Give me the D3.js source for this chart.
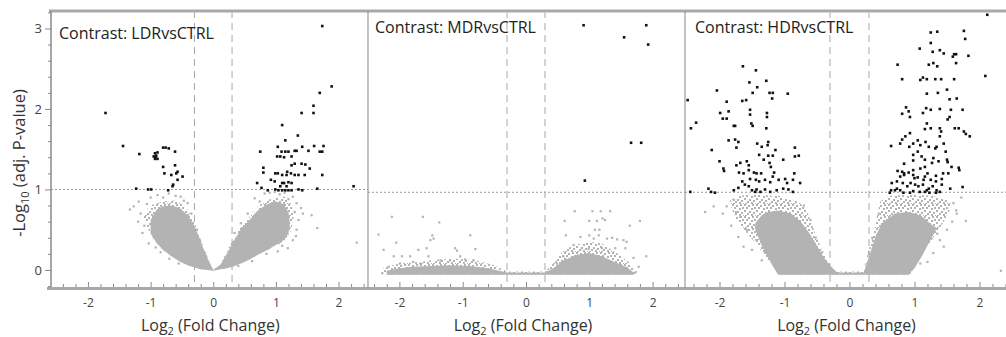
<!DOCTYPE html>
<html>
<head>
<meta charset="utf-8">
<script src="https://cdn.jsdelivr.net/npm/d3@7"></script>
<style>
  html, body { margin: 0; padding: 0; background: #fff; }
  svg { display: block; font-family: "Open Sans", "Noto Sans", sans-serif; }
</style>
</head>
<body>
<svg id="chart" width="1006" height="337"></svg>
<script>
// ---------------- data ----------------
const contrasts = ["LDRvsCTRL", "MDRvsCTRL", "HDRvsCTRL"];
const yMajorTicks = [0, 1, 2, 3];
const xMajorTicks = [-2, -1, 0, 1, 2];
const foldCut = 0.3;                       // |log2 FC| cut-off
const pCut = [1.0, 0.965, 0.965];          // -log10 adj. p cut-off per contrast

// significant genes: [log2 FC, -log10 adj. p]
const ldrSig = [
  [-1.72,1.95],[-1.44,1.54],[-1.18,1.44],[-1.23,1.01],
  [-0.93,1.45],[-0.89,1.46],[-0.91,1.42],[-0.95,1.41],[-0.93,1.38],[-0.89,1.38],[-0.92,1.40],
  [-0.80,1.52],[-0.76,1.52],[-0.71,1.51],[-0.61,1.47],[-0.80,1.28],[-0.78,1.20],[-0.61,1.30],
  [-0.57,1.22],[-0.59,1.20],[-0.67,1.18],[-0.49,1.16],[-0.57,1.12],[-0.64,1.06],[-0.65,1.04],
  [-1.04,1.00],[-0.99,1.00],[-0.72,0.99],
  [1.74,3.03],[1.89,2.28],[1.70,2.20],[1.60,2.04],[1.60,1.95],[1.41,1.95],[1.10,1.80],[1.35,1.67],[1.15,1.61],
  [0.75,1.47],[1.03,1.53],[1.09,1.47],[1.15,1.47],[1.20,1.47],[1.30,1.48],[1.33,1.48],[1.42,1.53],
  [1.61,1.54],[1.76,1.54],[1.70,1.47],[1.74,1.47],[1.52,1.48],
  [1.02,1.41],[1.07,1.41],[1.13,1.40],[1.25,1.41],[0.80,1.27],[0.80,1.21],[1.30,1.32],[1.25,1.30],
  [1.41,1.32],[1.47,1.31],[1.54,1.26],[1.18,1.22],[1.24,1.20],[1.30,1.18],[0.99,1.20],[1.03,1.20],
  [1.10,1.18],[1.17,1.18],[1.36,1.18],[1.46,1.18],[1.74,1.18],
  [0.70,1.08],[0.92,1.12],[0.98,1.10],[1.10,1.08],[1.13,1.08],[1.20,1.09],[1.25,1.08],
  [0.77,1.02],[0.87,0.99],[0.99,1.00],[1.04,0.99],[1.10,0.99],[1.15,0.99],[1.20,0.99],[1.25,0.99],
  [1.07,1.04],[1.17,1.04],[1.36,1.00],[1.42,0.99],[1.66,1.01],[2.24,1.04]
];
const mdrSig = [
  [0.91,3.04],[1.90,3.04],[1.55,2.89],[1.93,2.80],[1.66,1.58],[1.82,1.58],[0.93,1.11]
];
const hdrSig = [
  [-2.49,2.11],[-2.36,1.83],[-2.44,1.76],[-2.04,2.23],[-1.64,2.53],[-1.44,2.48],[-1.54,2.33],[-1.28,2.35],
  [-1.42,2.27],[-1.49,2.20],[-1.23,2.20],[-1.18,2.20],[-1.19,2.13],[-0.95,2.19],[-1.65,2.10],[-1.59,2.11],
  [-1.89,2.09],[-1.99,1.95],[-1.86,1.97],[-1.95,1.88],[-1.89,1.88],[-1.78,1.79],[-1.76,1.79],[-1.53,1.99],
  [-1.53,1.93],[-1.51,1.82],[-1.49,1.79],[-1.27,1.95],[-1.27,1.90],[-1.28,1.76],[-1.86,1.61],[-1.76,1.62],
  [-1.71,1.59],[-2.12,1.49],[-1.74,1.52],[-1.42,1.57],[-1.35,1.53],[-1.25,1.59],[-1.26,1.55],[-1.14,1.49],
  [-1.18,1.42],[-1.25,1.42],[-1.39,1.43],[-1.32,1.37],[-1.23,1.33],[-0.84,1.52],[-0.84,1.41],[-0.78,1.42],
  [-1.02,1.37],[-2.00,1.35],[-1.94,1.26],[-1.93,1.23],[-1.68,1.33],[-1.58,1.35],[-1.55,1.30],[-1.74,1.30],
  [-1.70,1.21],[-1.63,1.20],[-1.55,1.24],[-1.47,1.21],[-1.43,1.20],[-1.36,1.20],[-1.21,1.28],[-1.16,1.21],
  [-1.18,1.16],[-1.53,1.13],[-1.44,1.12],[-1.39,1.10],[-1.30,1.12],[-1.22,1.09],[-1.09,1.12],[-0.99,1.13],
  [-0.96,1.08],[-0.85,1.20],[-0.87,1.12],[-0.76,1.08],[-1.65,1.10],[-1.71,1.02],[-1.61,1.06],[-1.55,1.04],
  [-1.43,1.00],[-1.37,0.97],[-1.30,1.00],[-1.22,0.97],[-1.12,0.99],[-1.02,1.01],[-0.94,1.00],[-0.87,0.97],
  [-2.17,1.01],[-2.13,0.97],[-2.07,0.96],[-2.45,0.97],[-1.78,0.99],[-1.50,0.99],[-1.45,0.97],
  [2.12,3.17],[1.25,2.95],[1.35,2.96],[1.76,2.97],[1.78,2.87],[1.25,2.82],[1.08,2.75],[1.28,2.71],
  [1.39,2.73],[1.45,2.69],[1.61,2.68],[1.64,2.68],[1.59,2.65],[1.83,2.66],[0.74,2.55],[1.22,2.55],
  [1.29,2.57],[1.35,2.53],[1.64,2.57],[2.09,2.41],[0.81,2.37],[1.09,2.36],[1.13,2.39],[1.19,2.37],
  [1.32,2.37],[1.41,2.37],[1.61,2.37],[1.19,2.19],[1.36,2.20],[1.50,2.24],[1.54,2.12],[1.65,2.13],
  [0.87,2.02],[0.91,1.97],[0.81,1.94],[0.93,1.90],[1.18,2.01],[1.13,1.95],[1.25,1.99],[1.39,2.00],
  [1.56,1.99],[1.74,1.99],[1.54,1.90],[1.51,1.87],[1.19,1.82],[1.16,1.75],[1.25,1.76],[1.39,1.76],
  [1.41,1.72],[1.62,1.76],[1.68,1.76],[1.76,1.72],[1.79,1.69],[1.85,1.66],[1.39,1.66],[0.93,1.70],
  [0.86,1.66],[0.81,1.62],[0.78,1.57],[0.64,1.54],[0.92,1.53],[0.98,1.57],[1.05,1.61],[1.09,1.55],
  [1.17,1.59],[1.22,1.53],[1.34,1.53],[1.32,1.51],[1.45,1.57],[1.48,1.47],[1.05,1.47],[0.98,1.43],
  [1.11,1.41],[1.16,1.37],[1.29,1.39],[1.27,1.33],[1.37,1.35],[1.50,1.37],[1.51,1.34],[0.98,1.36],
  [0.84,1.32],[0.74,1.23],[0.81,1.22],[0.84,1.20],[0.91,1.21],[0.98,1.24],[1.09,1.26],[1.16,1.28],
  [1.20,1.20],[1.33,1.17],[1.44,1.20],[1.52,1.20],[1.57,1.28],[1.68,1.27],[1.69,1.24],[0.78,1.16],
  [0.84,1.18],[0.98,1.18],[1.00,1.14],[1.05,1.15],[1.14,1.12],[1.16,1.16],[1.25,1.12],[1.33,1.10],
  [1.42,1.13],[0.65,1.08],[0.73,1.10],[0.82,1.08],[0.89,1.04],[0.94,1.08],[1.01,1.06],[1.06,1.04],
  [1.13,1.06],[1.22,1.01],[1.28,1.04],[1.34,0.99],[1.42,1.06],[1.55,1.01],[1.74,1.03],[0.62,0.96],
  [0.73,1.01],[0.78,0.99],[0.83,0.96],[0.93,0.96],[0.98,0.98],[1.08,0.97],[1.16,0.97],[1.23,0.96],
  [1.19,0.99],[1.33,0.96],[1.39,0.97],[0.64,0.99],[0.70,0.99]
];

// scattered non-significant genes outside the dense clouds
const ldrGrey = [
  [-1.19,0.85],[-1.27,0.79],[-1.33,0.75],[-1.20,0.60],[-0.89,0.93],[-0.71,0.95],[-0.52,0.91],[-0.41,0.83],
  [-1.13,0.46],[-1.03,0.33],[-1.16,0.70],[-0.60,0.92],[-1.00,0.90],[-1.10,0.55],[-0.92,0.28],[-0.84,0.22],
  [-0.70,0.14],[-0.55,0.08],[-1.06,0.82],[-0.80,0.90],[-0.47,0.86],[-0.35,0.70],[-0.26,0.50],
  [0.66,0.89],[0.82,0.95],[0.98,0.97],[1.14,0.96],[1.27,0.91],[1.33,0.83],[1.40,0.77],[1.43,0.70],
  [1.57,0.68],[1.66,0.52],[2.29,0.34],[1.33,0.50],[1.27,0.37],[1.19,0.27],[1.03,0.23],[0.55,0.70],
  [0.44,0.58],[0.34,0.46],[1.36,0.62],[1.30,0.72],[0.90,0.96],[1.06,0.94],[0.85,0.20],[0.62,0.11],
  [0.40,0.05],[0.74,0.85],[1.20,0.88],[1.32,0.42],[1.10,0.30]
];
const mdrGrey = [
  [-2.12,0.66],[-1.63,0.66],[-1.37,0.59],[-2.33,0.44],[-2.05,0.34],[-2.25,0.25],[-1.48,0.43],[-1.46,0.39],
  [-1.51,0.37],[-0.88,0.43],[-0.80,0.26],[-1.12,0.27],[-1.09,0.24],[-2.09,0.17],[-1.96,0.17],[-1.83,0.17],
  [-1.70,0.25],[-1.57,0.27],[-1.54,0.17],[-1.99,0.08],[-1.78,0.10],[-1.35,0.12],[-1.20,0.12],[-1.04,0.17],
  [-0.96,0.13],[-0.83,0.12],[-2.27,-0.04],[-2.17,0.04],[-1.67,0.08],
  [0.77,0.73],[1.05,0.73],[1.18,0.73],[1.33,0.73],[0.61,0.61],[1.00,0.61],[1.12,0.61],[1.25,0.62],
  [1.21,0.64],[1.16,0.50],[1.09,0.50],[1.80,0.61],[1.64,0.55],[0.63,0.43],[0.86,0.41],[1.00,0.43],
  [1.07,0.39],[1.15,0.43],[1.28,0.39],[1.36,0.40],[1.44,0.38],[1.54,0.37],[1.59,0.35],[0.75,0.31],
  [0.88,0.27],[0.99,0.26],[1.20,0.27],[1.41,0.27],[1.57,0.27],[1.70,0.15],[1.90,0.17],[1.78,0.04],
  [1.73,-0.03],[0.59,0.17],[0.49,0.08]
];
const hdrGrey = [
  [-2.22,0.72],[-2.09,0.79],[-1.78,0.87],[-1.89,0.79],[-1.68,0.66],[-1.58,0.50],[-1.43,0.37],[-1.27,0.21],
  [-1.17,0.08],[-1.71,0.41],[-1.63,0.29],[-1.95,0.70],[-1.82,0.55],[-1.50,0.25],[-1.35,0.12],[-1.75,0.72],
  [-0.60,0.62],[-0.52,0.40],[-0.42,0.22],[-0.70,0.80],
  [1.60,0.83],[1.65,0.70],[1.50,0.50],[1.39,0.37],[1.29,0.21],[1.09,0.08],[1.79,0.61],[1.64,0.74],
  [2.33,-0.01],[1.45,0.29],[1.72,0.90],[1.58,0.60],[1.20,0.10],[1.35,0.45],[0.45,0.70],[0.35,0.40],
  [0.30,0.22]
];

// outline of the dense non-significant clouds: [log2 FC, lower, upper]
const ldrHalo = [
  [-1.11,0.66,0.66],[-1.05,0.53,0.77],[-0.97,0.39,0.81],[-0.81,0.25,0.85],[-0.65,0.16,0.87],
  [-0.52,0.10,0.83],[-0.41,0.06,0.75],[-0.30,0.03,0.60],[-0.20,0.01,0.38],[-0.10,0.00,0.18],
  [0.00,-0.01,0.00],[0.12,0.01,0.08],[0.23,0.025,0.25],[0.34,0.05,0.41],[0.44,0.08,0.54],
  [0.58,0.13,0.66],[0.71,0.19,0.79],[0.87,0.25,0.87],[1.03,0.31,0.91],[1.14,0.37,0.91],
  [1.24,0.48,0.83],[1.28,0.62,0.70]
];
const ldrCore = [
  [-1.00,0.45,0.62],[-0.90,0.33,0.75],[-0.80,0.25,0.79],[-0.65,0.16,0.80],[-0.52,0.10,0.76],
  [-0.41,0.06,0.68],[-0.30,0.03,0.55],[-0.20,0.01,0.35],[-0.10,0.00,0.16],[0.00,-0.01,0.00],
  [0.12,0.01,0.07],[0.23,0.025,0.22],[0.34,0.05,0.38],[0.44,0.08,0.50],[0.58,0.13,0.62],
  [0.71,0.19,0.74],[0.87,0.25,0.82],[1.00,0.31,0.85],[1.12,0.37,0.82],[1.20,0.45,0.72],[1.22,0.55,0.60]
];
const mdrHalo = [
  [-2.25,-0.06,0.03],[-2.00,-0.06,0.08],[-1.70,-0.06,0.10],[-1.40,-0.06,0.13],[-1.10,-0.06,0.14],
  [-0.80,-0.06,0.12],[-0.50,-0.06,0.06],[-0.30,-0.06,-0.02],[0.30,-0.06,-0.02],[0.45,-0.06,0.10],
  [0.60,-0.06,0.25],[0.80,-0.06,0.32],[1.00,-0.06,0.35],[1.20,-0.06,0.33],[1.45,-0.06,0.20],
  [1.65,-0.06,0.08],[1.75,-0.06,-0.02]
];
const mdrCore = [
  [-2.20,-0.06,-0.01],[-2.00,-0.06,0.02],[-1.80,-0.06,0.04],[-1.50,-0.06,0.05],[-1.20,-0.06,0.06],
  [-0.90,-0.06,0.05],[-0.60,-0.06,0.02],[-0.30,-0.06,-0.03],[0.30,-0.06,-0.03],[0.45,-0.06,0.03],
  [0.60,-0.06,0.12],[0.80,-0.06,0.19],[1.00,-0.06,0.21],[1.20,-0.06,0.17],[1.40,-0.06,0.10],
  [1.60,-0.06,0.03],[1.70,-0.06,-0.03]
];
const hdrHalo = [
  [-1.84,0.82,0.86],[-1.74,0.62,0.91],[-1.58,0.46,0.93],[-1.43,0.32,0.93],[-1.30,0.17,0.93],
  [-1.17,0.04,0.92],[-1.07,-0.06,0.92],[-0.90,-0.06,0.88],[-0.78,-0.06,0.84],[-0.66,-0.06,0.75],
  [-0.55,-0.06,0.50],[-0.45,-0.06,0.30],[-0.35,-0.06,0.12],[-0.25,-0.06,0.03],[-0.19,-0.06,-0.02],
  [0.22,-0.06,-0.02],[0.27,-0.06,0.18],[0.37,-0.06,0.45],[0.42,-0.06,0.66],[0.47,-0.06,0.85],
  [0.60,-0.06,0.92],[0.80,-0.06,0.93],[0.93,-0.06,0.93],[1.09,0.15,0.93],[1.29,0.40,0.92],
  [1.45,0.60,0.88],[1.55,0.75,0.85]
];
const hdrCore = [
  [-1.45,0.50,0.58],[-1.35,0.30,0.68],[-1.25,0.15,0.72],[-1.10,-0.06,0.74],[-0.90,-0.06,0.70],
  [-0.75,-0.06,0.60],[-0.62,-0.06,0.46],[-0.50,-0.06,0.30],[-0.40,-0.06,0.16],[-0.28,-0.06,0.04],
  [-0.19,-0.06,-0.03],[0.22,-0.06,-0.03],[0.30,-0.06,0.16],[0.40,-0.06,0.42],[0.50,-0.06,0.58],
  [0.70,-0.06,0.70],[0.90,-0.06,0.72],[1.00,0.02,0.70],[1.12,0.18,0.66],[1.25,0.38,0.57],[1.33,0.50,0.52]
];

// ---------------- layout ----------------
const W = 1006, H = 337;
const plotTop = 11, plotBottom = 288, axisX = 51;
const panels = [
  { title: contrasts[0], sig: ldrSig, grey: ldrGrey, halo: ldrHalo, core: ldrCore, cut: pCut[0],
    x0: axisX, x1: 368, domain: [-2.59, 2.47], titleX: 59, titleY: 39 },
  { title: contrasts[1], sig: mdrSig, grey: mdrGrey, halo: mdrHalo, core: mdrCore, cut: pCut[1],
    x0: 368, x1: 685, domain: [-2.496, 2.512], titleX: 375, titleY: 33 },
  { title: contrasts[2], sig: hdrSig, grey: hdrGrey, halo: hdrHalo, core: hdrCore, cut: pCut[2],
    x0: 685, x1: 1006, domain: [-2.531, 2.408], titleX: 695, titleY: 33 }
];
const GREY = "#b3b3b3", FRAME = "#a9a9a9";

const svg = d3.select("#chart");
const y = d3.scaleLinear().domain([-0.224, 3.217]).range([plotBottom, plotTop]);

const defs = svg.append("defs");
// irregular speckle used for the thinner outer part of each cloud
const pat = defs.append("pattern").attr("id", "speckle")
  .attr("patternUnits", "userSpaceOnUse").attr("width", 12).attr("height", 12);
[[0,0],[4,1],[8,0],[2,3],[7,4],[10,3],[0,6],[5,7],[9,8],[3,9],[7,10],[11,11],[1,11]].forEach(([a,b]) =>
  pat.append("rect").attr("x", a).attr("y", b).attr("width", 2).attr("height", 2).attr("fill", GREY));

// frame bars
svg.append("rect").attr("x", 49).attr("y", 9.5).attr("width", W - 49).attr("height", 3).attr("fill", FRAME);
svg.append("rect").attr("x", 47).attr("y", 287).attr("width", W - 47).attr("height", 3).attr("fill", FRAME);

panels.forEach((p, i) => {
  const x = d3.scaleLinear().domain(p.domain).range([p.x0, p.x1]);
  const clipId = "clip" + i;
  defs.append("clipPath").attr("id", clipId).append("rect")
    .attr("x", p.x0).attr("y", plotTop + 1.5).attr("width", p.x1 - p.x0).attr("height", plotBottom - plotTop - 1.5);
  const g = svg.append("g").attr("clip-path", `url(#${clipId})`);

  // significance cut-offs
  g.append("line").attr("x1", p.x0).attr("x2", p.x1).attr("y1", y(p.cut)).attr("y2", y(p.cut))
    .attr("stroke", "#9c9c9c").attr("stroke-width", 1).attr("stroke-dasharray", "2,2");
  [-foldCut, foldCut].forEach(f => {
    g.append("line").attr("x1", x(f)).attr("x2", x(f)).attr("y1", plotTop).attr("y2", plotBottom)
      .attr("stroke", "#a8a8a8").attr("stroke-width", 1).attr("stroke-dasharray", "7,5");
  });

  // dense clouds of non-significant genes
  const area = d3.area().x(d => x(d[0])).y0(d => y(d[1])).y1(d => y(d[2]));
  g.append("path").datum(p.halo).attr("d", area).attr("fill", "url(#speckle)");
  g.append("path").datum(p.core).attr("d", area).attr("fill", GREY);

  // scattered non-significant genes
  g.selectAll(".ns").data(p.grey).join("rect")
    .attr("x", d => x(d[0]) - 1.1).attr("y", d => y(d[1]) - 1.1)
    .attr("width", 2.2).attr("height", 2.2).attr("fill", GREY);

  // significant genes
  g.selectAll(".sig").data(p.sig).join("rect")
    .attr("x", d => x(d[0]) - 1.3).attr("y", d => y(d[1]) - 1.3)
    .attr("width", 2.6).attr("height", 2.6).attr("fill", "#111");

  // panel title
  svg.append("text").attr("x", p.titleX).attr("y", p.titleY)
    .attr("font-size", 16).attr("fill", "#222").text("Contrast: " + p.title);

  // divider on the right of the panel
  if (i < panels.length - 1) {
    svg.append("line").attr("x1", p.x1).attr("x2", p.x1).attr("y1", plotTop).attr("y2", plotBottom)
      .attr("stroke", "#9a9a9a").attr("stroke-width", 1.2);
  }

  // x axis: minor and major ticks pointing up, labels below the bar
  const minor = d3.range(-2.4, 2.41, 0.2).map(v => +v.toFixed(1))
    .filter(v => v >= p.domain[0] && v <= p.domain[1] && !xMajorTicks.includes(v));
  const gx = svg.append("g").attr("transform", `translate(0,${plotBottom - 1})`);
  gx.call(d3.axisBottom(x).tickValues(minor).tickSize(-3).tickFormat(""));
  gx.call(g2 => g2.select(".domain").remove());
  const gxM = svg.append("g").attr("transform", `translate(0,${plotBottom - 1})`);
  gxM.call(d3.axisBottom(x).tickValues(xMajorTicks).tickSize(-5).tickPadding(11)
    .tickFormat(d => d < 0 ? "-" + Math.abs(d) : String(d)));
  gxM.call(g2 => g2.select(".domain").remove());
  [gx, gxM].forEach(a => a.selectAll(".tick line").attr("stroke", "#8a8a8a"));
  gxM.selectAll(".tick text").attr("font-size", 12).attr("fill", "#444")
    .attr("font-family", "'Open Sans', sans-serif");

  // x axis title, centred just left of the zero tick
  const xt = svg.append("text").attr("x", x(0) - 3).attr("y", 331)
    .attr("text-anchor", "middle").attr("font-size", 16).attr("fill", "#333");
  xt.append("tspan").text("Log");
  xt.append("tspan").attr("font-size", 11).attr("dy", 4).text("2");
  xt.append("tspan").attr("dy", -4).text(" (Fold Change)");
});

// y axis
const gyMinor = svg.append("g").attr("transform", `translate(${axisX},0)`)
  .call(d3.axisLeft(y).tickValues(d3.range(-0.2, 3.21, 0.2).map(v => +v.toFixed(1)).filter(v => !yMajorTicks.includes(v)))
    .tickSize(3).tickFormat(""));
const gy = svg.append("g").attr("transform", `translate(${axisX},0)`)
  .call(d3.axisLeft(y).tickValues(yMajorTicks).tickSize(6).tickPadding(3).tickFormat(d3.format("d")));
[gyMinor, gy].forEach(a => {
  a.select(".domain").attr("stroke", "#8a8a8a").attr("d", `M0,${plotTop}V${plotBottom - 1}`);
  a.selectAll(".tick line").attr("stroke", "#8a8a8a");
});
gy.selectAll(".tick text").attr("font-size", 13).attr("fill", "#444")
  .attr("font-family", "'Open Sans', sans-serif");

// y axis title
const yt = svg.append("text").attr("transform", "translate(25,163) rotate(-90)")
  .attr("text-anchor", "middle").attr("font-size", 16.5).attr("fill", "#333");
yt.append("tspan").text("-Log");
yt.append("tspan").attr("font-size", 11).attr("dy", 4).text("10");
yt.append("tspan").attr("dy", -4).text(" (adj. P-value)");
</script>
</body>
</html>
